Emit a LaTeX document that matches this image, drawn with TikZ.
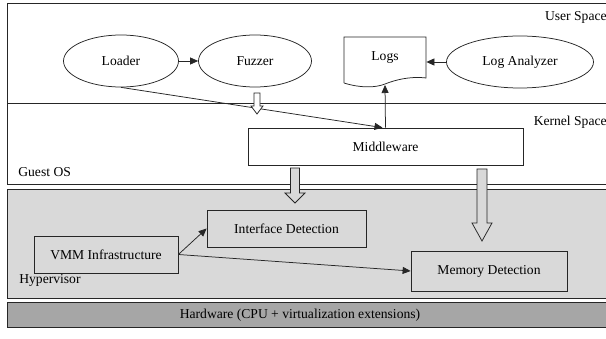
\documentclass[tikz,border=0pt]{standalone}
\usepackage{fontspec}
\setmainfont{Liberation Serif}
\usetikzlibrary{shapes.geometric,arrows.meta,calc}

\newcommand{\blockarrow}[6]{%
  \draw[fill=#6] let \p1=(#1), \p2=(#2) in
    (\x1-#3pt,\y1) -- (\x1-#3pt,\y2+#5pt) -- (\x1-#4pt,\y2+#5pt) -- (\x2,\y2)
    -- (\x1+#4pt,\y2+#5pt) -- (\x1+#3pt,\y2+#5pt) -- (\x1+#3pt,\y1) -- cycle;}

\begin{document}
\begin{tikzpicture}[x=1pt,y=-1pt,line width=0.75pt,draw=black!85,
  every node/.style={font=\fontsize{13.6}{16}\selectfont,inner sep=0pt},
  proc/.style={draw,ellipse,minimum height=52pt},
  unit/.style={draw,rectangle,minimum height=37pt},
  tag/.style={inner sep=0pt},
  arr/.style={-{Triangle[length=8pt,width=7pt]}}]
  \useasboundingbox (0,0) rectangle (606,339);
  \draw[fill=white] (7,3) rectangle (614,184);
  \draw (7,103) -- (614,103);
  \draw[fill=black!15] (7,189) rectangle (614,298);
  \draw[fill=black!35] (7,302) rectangle (614,327);

  \node[tag,anchor=east] (us) at (607,17) {User Space};
  \node[tag,anchor=east] (ks) at (607,122) {Kernel Space};
  \node[tag,anchor=west] (gos) at (18,172) {Guest OS};
  \node[tag,anchor=west] (hyp) at (19,280) {Hypervisor};
  \node[tag] (hw) at (300,315) {Hardware (CPU + virtualization extensions)};

  \node[proc,minimum width=115pt] (loader) at (121,61) {Loader};
  \node[proc,minimum width=113pt] (fuzzer) at (255,61) {Fuzzer};
  \node[proc,minimum width=147pt] (ana) at (520,62) {Log Analyzer};
  \node[minimum width=82pt,minimum height=46pt] (logs) at (385,58) {Logs};
  \draw (344,83) -- (344,37) -- (426,37) -- (426,78)
    .. controls (410,76) and (395,80) .. (385,84)
    .. controls (375,88) and (360,88) .. (344,83);
  \coordinate (logs tip) at (385,85);

  \node[unit,minimum width=275pt] (mw) at (385.5,146.5) {Middleware};
  \node[unit,minimum width=144pt] (vmm) at (106,254.5) {VMM Infrastructure};
  \node[unit,minimum width=159pt] (ifd) at (286.5,228.5) {Interface Detection};
  \node[unit,minimum width=156pt,minimum height=40pt] (mem) at (489,271) {Memory Detection};

  \draw[arr] (loader) -- (fuzzer);
  \draw[arr] (ana) -- (logs.east |- ana);
  \draw[arr] (loader.south) -- ($(mw.north)+(-3,0)$);
  \draw[arr] (mw.north) -- (logs tip);
  \draw[arr] (vmm.east) -- (ifd.west);
  \draw[arr] (vmm.east) -- (mem.west);

  \coordinate (fz tail) at (257,93);
  \coordinate (fz tip) at (257,114);
  \coordinate (mw tail a) at (295,168);
  \coordinate (ifd tip) at (295,203);
  \coordinate (mw tail b) at (482,169);
  \coordinate (mem tip) at (482,241);
  \blockarrow{fz tail}{fz tip}{3}{6}{8}{white}
  \blockarrow{mw tail a}{ifd tip}{4.5}{10}{10}{black!15}
  \blockarrow{mw tail b}{mem tip}{5}{10}{18}{black!15}
\end{tikzpicture}
\end{document}
